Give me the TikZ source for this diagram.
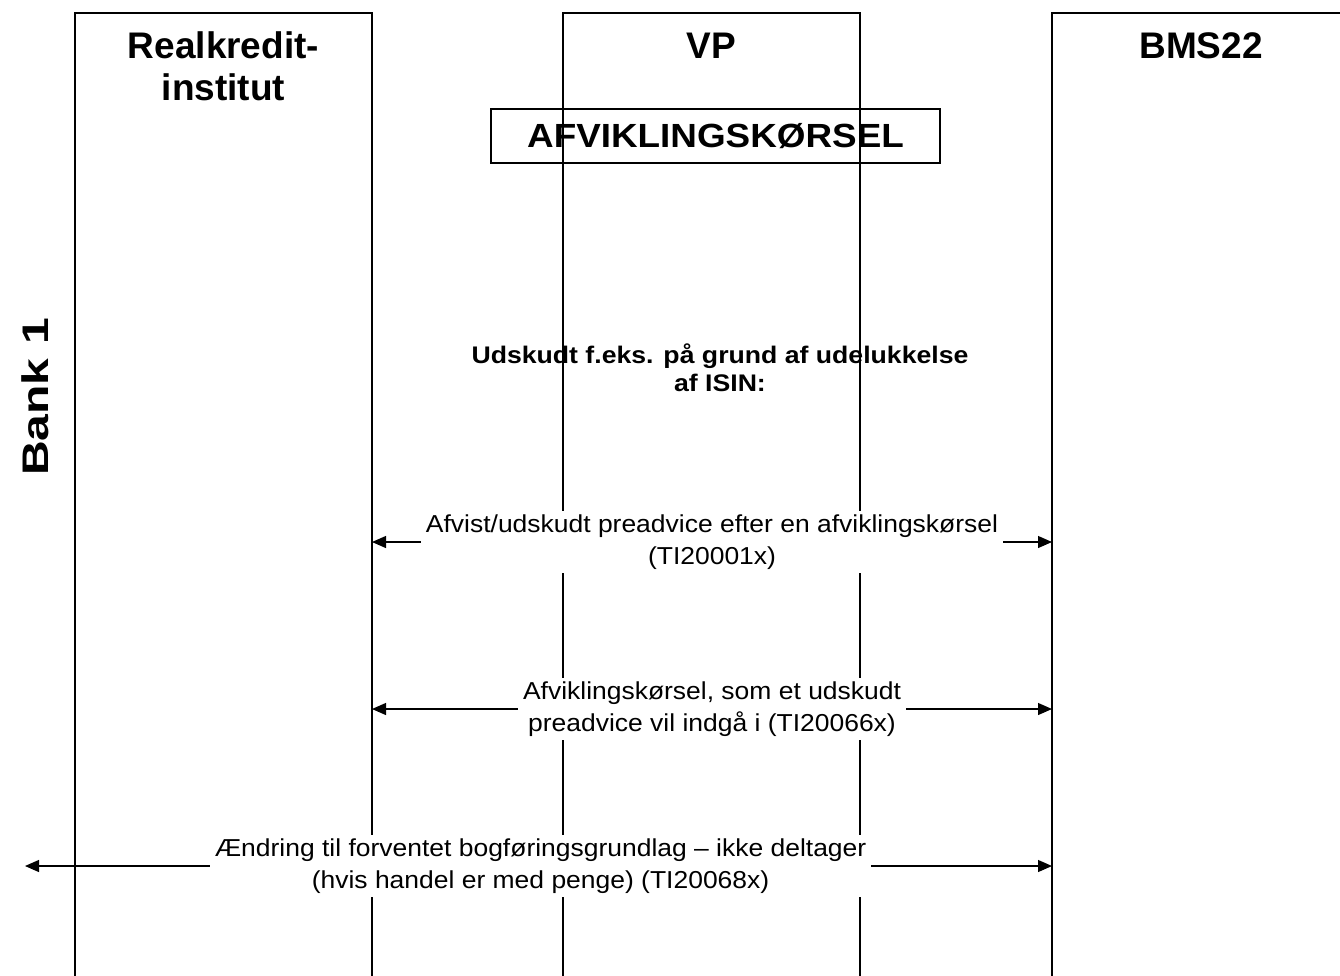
\documentclass[tikz,border=0pt]{standalone}
\usepackage{fontspec}
\setmainfont{Liberation Sans}
\newfontfamily\lblfont{Liberation Sans}[FakeStretch=1.08]
\newfontfamily\notefont{Liberation Sans}[FakeStretch=1.11]
\newfontfamily\runfont{Liberation Sans}[FakeStretch=1.1]
\newfontfamily\bankfont{Liberation Sans}[FakeStretch=1.3]
\usetikzlibrary{arrows.meta}
\tikzset{
  lane/.style={line width=1.4pt},
  title/.style={font=\fontsize{37}{42}\selectfont\bfseries, align=center, inner sep=0pt},
  msg/.style={line width=1.2pt, {Triangle[length=14pt,width=12pt]}-{Triangle[length=14pt,width=12pt]}},
  lbl/.style={fill=white, font=\lblfont\fontsize{24.5}{32}\selectfont, align=center, inner xsep=5pt, inner ysep=4pt},
  note/.style={font=\notefont\bfseries\fontsize{24}{28}\selectfont, align=center, inner sep=0pt},
  runbox/.style={draw, line width=1.4pt, minimum width=449pt, minimum height=54pt, inner sep=0pt, font=\runfont\bfseries\fontsize{33.5}{38}\selectfont},
  bank/.style={font=\bankfont\bfseries\fontsize{37}{42}\selectfont, rotate=90, inner sep=0pt}
}
\begin{document}
\begin{tikzpicture}[x=1pt,y=-1pt]
\useasboundingbox (0,0) rectangle (1340,975);
% lanes
\coordinate (rkBL) at (75,990); \coordinate (rkTL) at (75,13);
\coordinate (rkTR) at (372,13); \coordinate (rkBR) at (372,990);
\coordinate (vpBL) at (563,990); \coordinate (vpTL) at (563,13);
\coordinate (vpTR) at (860,13); \coordinate (vpBR) at (860,990);
\coordinate (bmBL) at (1052,990); \coordinate (bmTL) at (1052,13);
\coordinate (bmTR) at (1350,13);
\draw[lane] (rkBL) -- (rkTL) -- (rkTR) -- (rkBR);
\draw[lane] (vpBL) -- (vpTL) -- (vpTR) -- (vpBR);
\draw[lane] (bmBL) -- (bmTL) -- (bmTR);
% titles
\node[title] (trk) at (223.5,66) {Realkredit-\\institut};
\node[title] (tvp) at (711,46) {VP};
\node[title] (tbm) at (1201,46) {BMS22};
\node[runbox] (run) at (715.5,136) {AFVIKLINGSKØRSEL};
\node[bank] (bank) at (35,397) {Bank 1};
\node[note] (note) at (720,368) {Udskudt f.eks. på grund af udelukkelse\\af ISIN:};
% messages
\coordinate (m1l) at (372,542); \coordinate (m1r) at (1052,542);
\coordinate (m2l) at (372,709); \coordinate (m2r) at (1052,709);
\coordinate (m3l) at (25,866); \coordinate (m3r) at (1052,866);
\draw[msg] (m1l) -- node[lbl] (l1) {Afvist/udskudt preadvice efter en afviklingskørsel\\(TI20001x)} (m1r);
\draw[msg] (m2l) -- node[lbl] (l2) {Afviklingskørsel, som et udskudt\\preadvice vil indgå i (TI20066x)} (m2r);
\draw[msg] (m3l) -- node[lbl,pos=0.502] (l3) {Ændring til forventet bogføringsgrundlag – ikke deltager\\(hvis handel er med penge) (TI20068x)} (m3r);
\end{tikzpicture}
\end{document}
